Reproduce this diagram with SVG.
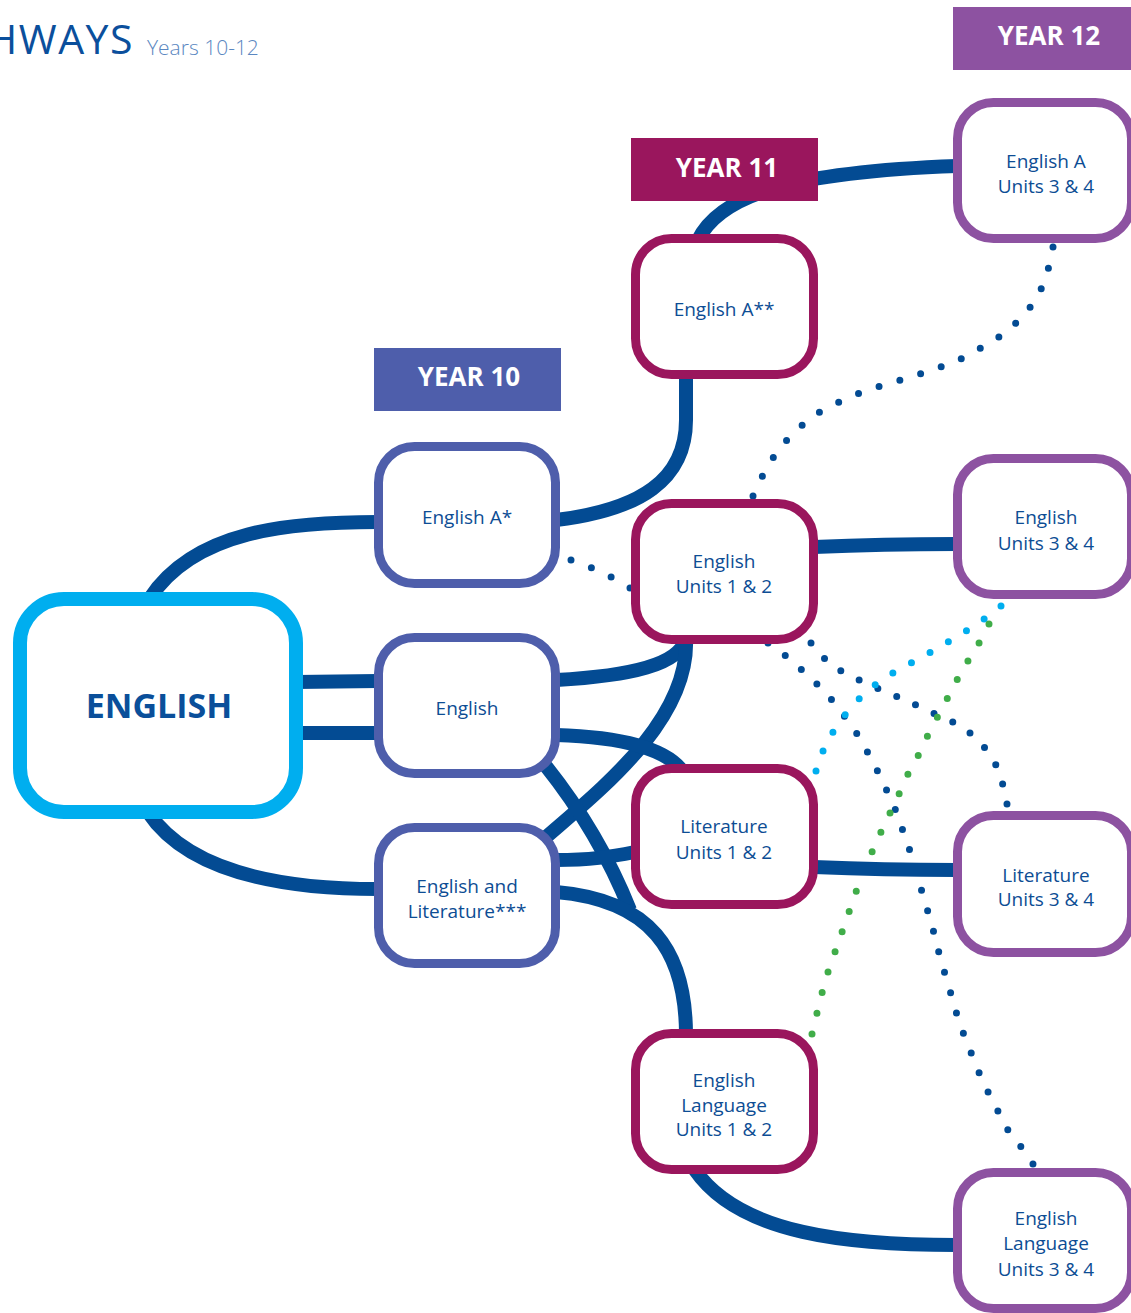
<svg xmlns="http://www.w3.org/2000/svg" width="1131" height="1313" viewBox="0 0 1131 1313">
<style>
  .bg { fill: #ffffff; }
  .conn { fill: none; stroke: #034b93; stroke-width: 14; stroke-linecap: butt; }
  .dot { fill: none; stroke-width: 7; stroke-linecap: round; stroke-linejoin: round; stroke-dasharray: 0 0.9999; }
  .dblue { stroke: #034b93; }
  .dcyan { stroke: #00aeef; }
  .dgreen { stroke: #40ad49; }
  .node { fill: #ffffff; stroke-width: 9; }
  .y10 { stroke: #4e5eab; }
  .y11 { stroke: #9a165d; }
  .y12 { stroke: #8d52a1; }
  .lbl { font-family: "Open Sans", "Liberation Sans", sans-serif; font-size: 19px; fill: #0d4d94; text-anchor: middle; }
  .ban { font-family: "Open Sans", "Liberation Sans", sans-serif; font-size: 26px; font-weight: 700; fill: #ffffff; text-anchor: middle; }
</style>
<rect class="bg" x="0" y="0" width="1131" height="1313"/>

<g id="title">
  <text x="134" y="54" font-family="'Open Sans', 'Liberation Sans', sans-serif" font-size="41" fill="#0b4f9c" text-anchor="end" letter-spacing="1.5">HWAYS</text>
  <text x="147" y="55" font-family="'Open Sans', 'Liberation Sans', sans-serif" font-size="21" font-weight="300" fill="#5b87c1">Years 10-12</text>
</g>

<g id="dotted-connectors">
  <polyline class="dot dblue" pathLength="19" points="1053,247 1048,270 1040,292 1027,312 1012,327 995,340 977,350 957,361 938,368 917,375 897,381 877,387 857,394 837,403 818,413 800,427 785,442 773,458 763,475 753,496"/>
  <polyline class="dot dblue" pathLength="3" points="571,560 592,568 611,577 630,588"/>
  <polyline class="dot dblue" pathLength="13" points="811,643 825,659 841,671 859,680 879,689 898,697 916,705 935,714 953,722 970,733 985,748 996,765 1003,785 1007,804"/>
  <polyline class="dot dblue" pathLength="28" points="768,643 786,656 802,670 817,684 832,700 845,717 857,734 868,753 878,772 887,791 896,811 903,831 910,851 916,871 922,892 928,912 934,933 939,953 945,974 951,994 957,1015 964,1035 972,1055 980,1075 989,1094 999,1113 1009,1132 1022,1148 1033,1164"/>
  <polyline class="dot dcyan" pathLength="12" points="1001,606 984,619 966,631 948,642 931,652 913,662 893,673 875,685 859,699 845,715 833,732 823,751 816,771"/>
  <polyline class="dot dgreen" pathLength="21" points="989,624 979,643 968,661 957,680 947,699 937,718 927,737 918,756 908,774 899,794 890,813 881,832 872,852 864,872 856,892 849,912 842,932 835,952 828,972 822,993 817,1013 812,1034"/>
</g>

<g id="connectors">
  <path class="conn" d="M 698 240 C 720 195, 790 172, 957 166"/>
  <path class="conn" d="M 556 520 C 640 510, 686 480, 686 420 L 686 375"/>
  <path class="conn" d="M 150 598 C 195 530, 290 522, 378 522"/>
  <path class="conn" d="M 296 682 L 378 681"/>
  <path class="conn" d="M 296 733 L 378 733"/>
  <path class="conn" d="M 148 812 C 190 875, 290 889, 378 889"/>
  <path class="conn" d="M 556 680 C 630 676, 680 665, 686 638"/>
  <path class="conn" d="M 686 638 C 690 720, 600 790, 545 838"/>
  <path class="conn" d="M 556 735 C 625 737, 668 750, 683 772"/>
  <path class="conn" d="M 545 765 C 585 815, 612 865, 630 910"/>
  <path class="conn" d="M 556 860 C 590 860, 610 857, 635 852"/>
  <path class="conn" d="M 556 892 C 650 900, 686 950, 686 1035"/>
  <path class="conn" d="M 814 547 C 860 545, 900 544, 957 544"/>
  <path class="conn" d="M 814 867 C 860 869, 900 870, 957 870"/>
  <path class="conn" d="M 695 1170 C 740 1235, 850 1245, 957 1245"/>
</g>

<g id="node-english">
  <rect x="20" y="599" width="276" height="213" rx="44" fill="#ffffff" stroke="#00aeef" stroke-width="14"/>
  <text x="159" y="718" font-family="'Open Sans', 'Liberation Sans', sans-serif" font-size="34" font-weight="700" fill="#0a4f9a" text-anchor="middle">ENGLISH</text>
</g>

<g id="node-english-a-star">
  <rect class="node y10" x="378.5" y="446.5" width="177" height="137" rx="36"/>
  <text class="lbl" x="467" y="524">English A*</text>
</g>
<g id="node-english-y10">
  <rect class="node y10" x="378.5" y="637.5" width="177" height="136" rx="36"/>
  <text class="lbl" x="467" y="715">English</text>
</g>
<g id="node-english-literature">
  <rect class="node y10" x="378.5" y="827.5" width="177" height="136" rx="36"/>
  <text class="lbl" x="467" y="893">English and</text>
  <text class="lbl" x="467" y="918">Literature***</text>
</g>

<g id="node-english-a-2star">
  <rect class="node y11" x="635.5" y="238.5" width="178" height="136" rx="36"/>
  <text class="lbl" x="724" y="316">English A**</text>
</g>
<g id="node-english-u12">
  <rect class="node y11" x="635.5" y="503.5" width="178" height="136" rx="36"/>
  <text class="lbl" x="724" y="568">English</text>
  <text class="lbl" x="724" y="593">Units 1 &amp; 2</text>
</g>
<g id="node-literature-u12">
  <rect class="node y11" x="635.5" y="768.5" width="178" height="136" rx="36"/>
  <text class="lbl" x="724" y="833">Literature</text>
  <text class="lbl" x="724" y="859">Units 1 &amp; 2</text>
</g>
<g id="node-english-language-u12">
  <rect class="node y11" x="635.5" y="1033.5" width="178" height="136" rx="36"/>
  <text class="lbl" x="724" y="1087">English</text>
  <text class="lbl" x="724" y="1112">Language</text>
  <text class="lbl" x="724" y="1136">Units 1 &amp; 2</text>
</g>

<g id="node-english-a-u34">
  <rect class="node y12" x="957.5" y="102.5" width="174" height="136" rx="36"/>
  <text class="lbl" x="1046" y="168">English A</text>
  <text class="lbl" x="1046" y="193">Units 3 &amp; 4</text>
</g>
<g id="node-english-u34">
  <rect class="node y12" x="957.5" y="458.5" width="174" height="136" rx="36"/>
  <text class="lbl" x="1046" y="524">English</text>
  <text class="lbl" x="1046" y="550">Units 3 &amp; 4</text>
</g>
<g id="node-literature-u34">
  <rect class="node y12" x="957.5" y="815.5" width="174" height="137" rx="36"/>
  <text class="lbl" x="1046" y="882">Literature</text>
  <text class="lbl" x="1046" y="906">Units 3 &amp; 4</text>
</g>
<g id="node-english-language-u34">
  <rect class="node y12" x="957.5" y="1172.5" width="174" height="136" rx="36"/>
  <text class="lbl" x="1046" y="1225">English</text>
  <text class="lbl" x="1046" y="1250">Language</text>
  <text class="lbl" x="1046" y="1276">Units 3 &amp; 4</text>
</g>

<g id="banner-year10">
  <rect x="374" y="348" width="187" height="63" fill="#4e5eab"/>
  <text class="ban" x="469" y="386">YEAR 10</text>
</g>
<g id="banner-year11">
  <rect x="631" y="138" width="187" height="63" fill="#9a165d"/>
  <text class="ban" x="727" y="177">YEAR 11</text>
</g>
<g id="banner-year12">
  <rect x="953" y="7" width="180" height="63" fill="#8d52a1"/>
  <text class="ban" x="1049" y="45">YEAR 12</text>
</g>
</svg>
